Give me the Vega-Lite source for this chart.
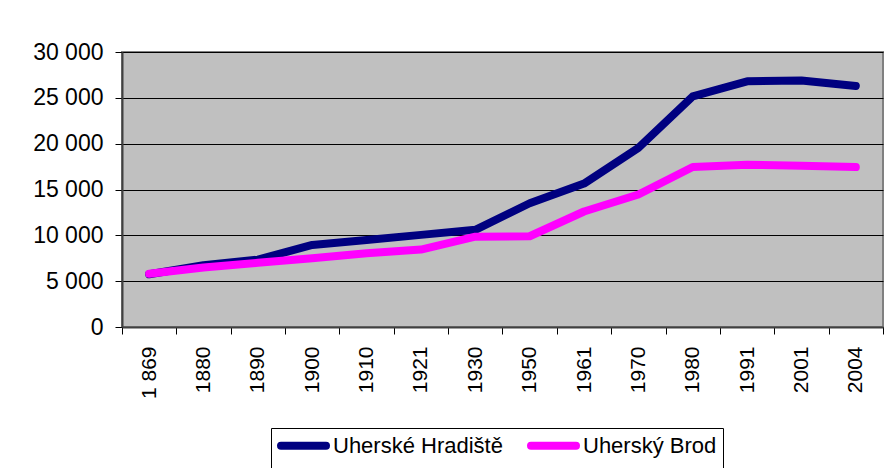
{
  "$schema": "https://vega.github.io/schema/vega-lite/v6.json",
  "autosize": "none",
  "width": 761,
  "height": 275,
  "padding": {"left": 122, "top": 52, "right": 8, "bottom": 141},
  "background": "white",
  "config": {
    "font": "Liberation Sans",
    "view": {"fill": "#C0C0C0", "stroke": "#808080", "strokeWidth": 2}
  },
  "data": {
    "values": [
      {"rok": "1 869", "mesto": "Uherské Hradiště", "obyvatel": 5750},
      {"rok": "1880", "mesto": "Uherské Hradiště", "obyvatel": 6750},
      {"rok": "1890", "mesto": "Uherské Hradiště", "obyvatel": 7350},
      {"rok": "1900", "mesto": "Uherské Hradiště", "obyvatel": 8950},
      {"rok": "1910", "mesto": "Uherské Hradiště", "obyvatel": 9500},
      {"rok": "1921", "mesto": "Uherské Hradiště", "obyvatel": 10050},
      {"rok": "1930", "mesto": "Uherské Hradiště", "obyvatel": 10600},
      {"rok": "1950", "mesto": "Uherské Hradiště", "obyvatel": 13500},
      {"rok": "1961", "mesto": "Uherské Hradiště", "obyvatel": 15650},
      {"rok": "1970", "mesto": "Uherské Hradiště", "obyvatel": 19550},
      {"rok": "1980", "mesto": "Uherské Hradiště", "obyvatel": 25150},
      {"rok": "1991", "mesto": "Uherské Hradiště", "obyvatel": 26800},
      {"rok": "2001", "mesto": "Uherské Hradiště", "obyvatel": 26900},
      {"rok": "2004", "mesto": "Uherské Hradiště", "obyvatel": 26300},
      {"rok": "1 869", "mesto": "Uherský Brod", "obyvatel": 5800},
      {"rok": "1880", "mesto": "Uherský Brod", "obyvatel": 6500},
      {"rok": "1890", "mesto": "Uherský Brod", "obyvatel": 7000},
      {"rok": "1900", "mesto": "Uherský Brod", "obyvatel": 7500},
      {"rok": "1910", "mesto": "Uherský Brod", "obyvatel": 8050},
      {"rok": "1921", "mesto": "Uherský Brod", "obyvatel": 8450},
      {"rok": "1930", "mesto": "Uherský Brod", "obyvatel": 9850},
      {"rok": "1950", "mesto": "Uherský Brod", "obyvatel": 9900},
      {"rok": "1961", "mesto": "Uherský Brod", "obyvatel": 12600},
      {"rok": "1970", "mesto": "Uherský Brod", "obyvatel": 14450},
      {"rok": "1980", "mesto": "Uherský Brod", "obyvatel": 17450},
      {"rok": "1991", "mesto": "Uherský Brod", "obyvatel": 17700},
      {"rok": "2001", "mesto": "Uherský Brod", "obyvatel": 17600},
      {"rok": "2004", "mesto": "Uherský Brod", "obyvatel": 17450}
    ]
  },
  "mark": {"type": "line", "strokeWidth": 8, "strokeCap": "round", "strokeJoin": "round"},
  "encoding": {
    "x": {
      "field": "rok",
      "type": "ordinal",
      "sort": null,
      "bandPosition": 0.5,
      "scale": {"type": "band", "paddingInner": 0, "paddingOuter": 0},
      "axis": {
        "title": null,
        "labelAngle": -90,
        "labelFontSize": 21,
        "labelColor": "black",
        "labelPadding": 12,
        "tickBand": "extent",
        "tickSize": 7,
        "tickColor": "black",
        "domainColor": "#404040",
        "domainWidth": 2,
        "grid": false
      }
    },
    "y": {
      "field": "obyvatel",
      "type": "quantitative",
      "scale": {"domain": [0, 30000], "nice": false},
      "axis": {
        "title": null,
        "values": [0, 5000, 10000, 15000, 20000, 25000, 30000],
        "labelExpr": "replace(format(datum.value, ','), ',', ' ')",
        "labelFontSize": 23,
        "labelColor": "black",
        "labelPadding": 12,
        "tickSize": 7,
        "tickColor": "black",
        "domainColor": "#404040",
        "domainWidth": 2,
        "grid": true,
        "gridColor": "black",
        "gridWidth": 1,
        "gridOpacity": 1
      }
    },
    "color": {
      "field": "mesto",
      "type": "nominal",
      "scale": {"domain": ["Uherské Hradiště", "Uherský Brod"], "range": ["#000080", "#FF00FF"]},
      "legend": {
        "title": null,
        "orient": "none",
        "legendX": 149,
        "legendY": 376,
        "direction": "horizontal",
        "strokeColor": "black",
        "fillColor": "white",
        "padding": 6,
        "symbolType": "M-1,0H5",
        "symbolSize": 225,
        "symbolStrokeWidth": 8,
        "labelFontSize": 22,
        "labelColor": "black",
        "labelOffset": 33,
        "columnPadding": 12,
        "labelLimit": 400,
        "encode": {"symbols": {"update": {"strokeCap": {"value": "round"}}}}
      }
    }
  }
}
